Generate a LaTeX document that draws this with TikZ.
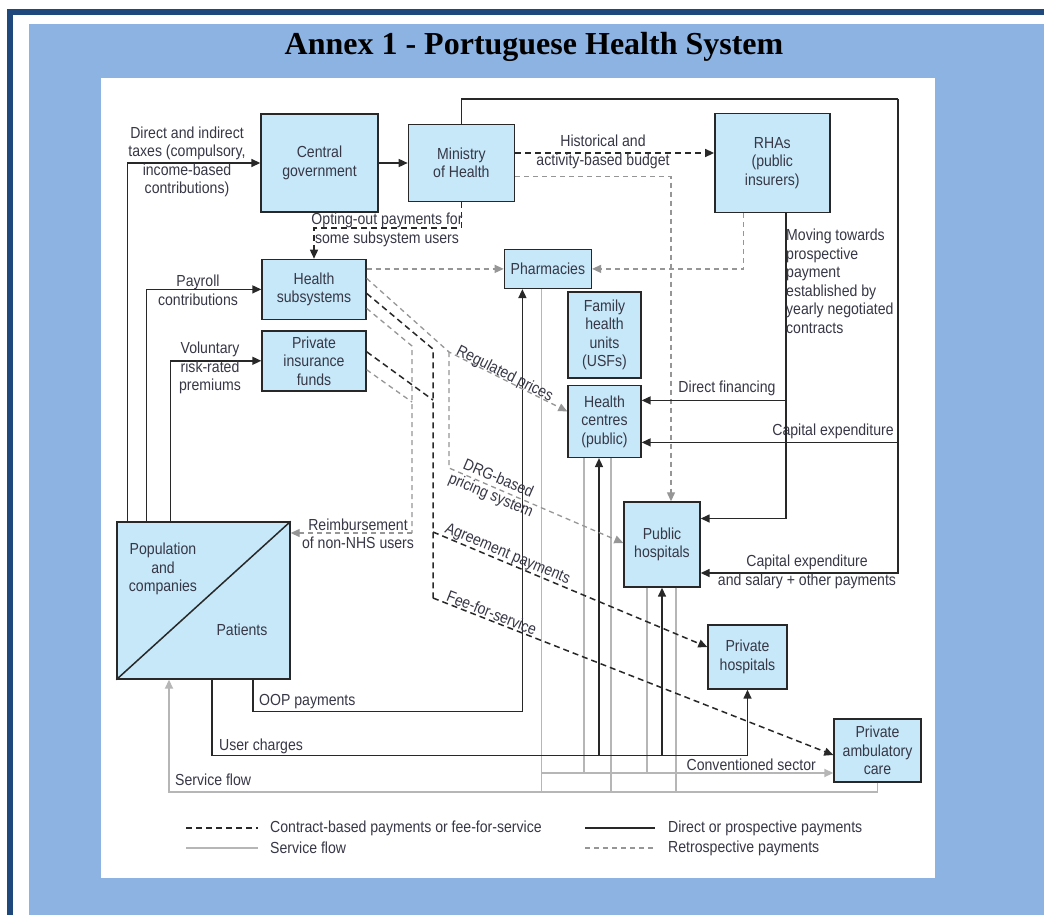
\documentclass[tikz,border=0pt]{standalone}
\usepackage{fontspec}
\usetikzlibrary{arrows.meta,positioning,calc}
\newfontfamily\lblfont{Liberation Sans}[FakeStretch=0.88]
\newfontfamily\titlefont{Liberation Serif}
\definecolor{framedark}{RGB}{31,73,125}
\definecolor{panelblue}{RGB}{141,179,226}
\definecolor{boxfill}{RGB}{198,232,249}
\definecolor{linedark}{RGB}{40,40,40}
\definecolor{txtdark}{RGB}{55,55,70}
\definecolor{servgrey}{RGB}{182,182,182}
\definecolor{retgrey}{RGB}{150,150,150}

\begin{document}
\begin{tikzpicture}[x=1pt, y=-1pt,
  >={Triangle[length=9pt,width=8pt]},
  font=\lblfont\fontsize{16}{18.5}\selectfont, text=txtdark,
  box/.style={draw=linedark, line width=1.4pt, fill=boxfill, align=center, inner sep=0pt},
  lbl/.style={align=center, inner sep=0pt},
  direct/.style={draw=linedark, line width=1.5pt},
  contract/.style={draw=linedark, line width=1.5pt, dash pattern=on 6pt off 4pt},
  service/.style={draw=servgrey, line width=1.8pt},
  retro/.style={draw=retgrey, line width=1.3pt, dash pattern=on 5pt off 4pt}]
\useasboundingbox (0,0) rectangle (1044,915);
% frame and panel
\fill[white] (0,0) rectangle (1044,915);
\fill[panelblue] (29,24) rectangle (1044,915);
\fill[framedark] (7,9) rectangle (13,915);
\fill[framedark] (7,9) rectangle (1044,15);
\fill[white] (101,78) rectangle (935,878);
\node[font=\titlefont\bfseries\fontsize{32}{36}\selectfont, text=black, anchor=base] (title) at (534,55) {Annex 1 - Portuguese Health System};
% actors
\node[box, minimum width=117pt, minimum height=98pt] (cg) at (319.5,163) {Central\\government};
\node[box, minimum width=106pt, minimum height=77pt, right=29pt of cg] (moh) {Ministry\\of Health};
\node[box, minimum width=115pt, minimum height=99pt, right=199pt of moh] (rha) {RHAs\\(public\\insurers)};
\node[box, minimum width=104pt, minimum height=60pt, below=46pt of cg.south west, anchor=north west, xshift=1pt] (hs) {Health\\subsystems};
\node[box, minimum width=104pt, minimum height=60pt, below=10pt of hs] (pif) {Private\\insurance\\funds};
\node[box, minimum width=87pt, minimum height=39pt, right=137pt of hs.north east, anchor=north west, yshift=10pt] (pharm) {Pharmacies};
\node[box, minimum width=73pt, minimum height=86pt] (fhu) at (604.5,335) {Family\\health\\units\\(USFs)};
\node[box, minimum width=73pt, minimum height=72pt, below=6pt of fhu] (hc) {Health\\centres\\(public)};
\node[box, minimum width=76pt, minimum height=85pt] (pubh) at (662,544.5) {Public\\hospitals};
\node[box, minimum width=79pt, minimum height=64pt] (privh) at (747.5,657) {Private\\hospitals};
\node[box, minimum width=87pt, minimum height=63pt] (pac) at (877.5,750.5) {Private\\ambulatory\\care};
\node[box, minimum width=173pt, minimum height=157pt] (pop) at (203.5,600.5) {};
\draw[direct] (pop.south west) -- (pop.north east);
\node[lbl] (popco) at (163,569) {Population\\and\\companies};
\node[lbl] (pat) at (242,630) {Patients};
% service flow
\draw[service,->] (pac.south) -- ++(0,9) coordinate (sf) -| ([xshift=-34.5pt]pop.south);
\node[lbl, anchor=west] (sflbl) at (175,780) {Service flow};
\coordinate (conv) at ([yshift=-22.5pt]pac.west);
\coordinate (phsv) at ([xshift=-6.5pt]pharm.south);
\coordinate (hcsa) at ([xshift=-20.5pt]hc.south);
\coordinate (hcsb) at ([xshift=6.5pt]hc.south);
\coordinate (phsa) at ([xshift=-15pt]pubh.south);
\coordinate (phsb) at ([xshift=14pt]pubh.south);
\draw[service] (phsv) -- (phsv |- sf);
\draw[service] (hcsa) -- (hcsa |- conv);
\draw[service] (hcsb) -- (hcsb |- sf);
\draw[service] (phsa) -- (phsa |- conv);
\draw[service] (phsb) -- (phsb |- sf);
\draw[service,->] (phsv |- conv) -- (conv);
\node[lbl, anchor=east] (convlbl) at (816,765) {Conventioned sector};
% population pays
\draw[direct,->] ([xshift=11pt]pop.north west) |- (cg.west);
\draw[direct,->] ([xshift=30pt]pop.north west) |- (hs.west);
\draw[direct,->] ([xshift=54pt]pop.north west) |- (pif.west);
\node[lbl] (taxlbl) at (187,162) {Direct and indirect\\taxes (compulsory,\\income-based\\contributions)};
\node[lbl] (paylbl) at (198,290.5) {Payroll\\contributions};
\node[lbl] (vollbl) at (210,368) {Voluntary\\risk-rated\\premiums};
\draw[direct,->] ([xshift=49.5pt]pop.south) -- ++(0,32) -| ([xshift=-25.5pt]pharm.south);
\node[lbl, anchor=west] (ooplbl) at (259,702) {OOP payments};
\draw[direct,->] ([xshift=8.5pt]pop.south) -- ++(0,76) coordinate (uc) -| (privh.south);
\node[lbl, anchor=west] (uclbl) at (219,746) {User charges};
\coordinate (hcin) at ([xshift=-5.5pt]hc.south);
\draw[direct,->] (hcin |- uc) -- (hcin);
\draw[direct,->] (pubh.south |- uc) -- (pubh.south);
% government and ministry
\draw[direct,->] (cg.east) -- (moh.west);
\draw[contract,->] ([yshift=10pt]moh.east) -- ([yshift=10pt]rha.west);
\node[lbl] (budlbl) at (603,152) {Historical and\\activity-based budget};
\draw[retro,->] ([yshift=-13.5pt]moh.east) -| ([xshift=9pt]pubh.north);
\coordinate (topr) at (898,99);
\coordinate (hccap) at ([yshift=-21pt]hc.east);
\draw[direct] (moh.north) |- (topr);
\draw[direct,->] (topr) |- ([yshift=-28.5pt]pubh.east);
\draw[direct,->] (topr |- hccap) -- (hccap);
\node[lbl] (caplbl) at (833,431) {Capital expenditure};
\node[lbl] (salbl) at (807,572) {Capital expenditure\\and salary + other payments};
\draw[contract,->] (moh.south) -- ++(0,26) -| (hs.north);
\node[lbl] (optlbl) at (387,230) {Opting-out payments for\\some subsystem users};
% RHAs
\coordinate (rhaout) at ([xshift=13.5pt]rha.south);
\coordinate (hcfin) at ([yshift=21pt]hc.east);
\draw[direct,->] (rhaout) |- ([yshift=26pt]pubh.east);
\draw[direct,->] (rhaout |- hcfin) -- (hcfin);
\node[lbl] (finlbl) at (727,388) {Direct financing};
\node[lbl, align=left, anchor=north west] (movlbl) at (786,229) {Moving towards\\prospective\\payment\\established by\\yearly negotiated\\contracts};
\draw[retro,->] ([xshift=-28.5pt]rha.south) |- (pharm.east);
% subsystems and insurance funds
\draw[retro,->] (hs.east |- pharm.west) -- (pharm.west);
\coordinate (drgc) at (449,352);
\draw[retro,->] ([yshift=11pt]hs.east) -- (drgc) -- node[lbl, sloped, above=-3pt, pos=0.45] (reglbl) {Regulated prices} ([yshift=10pt]hc.west);
\draw[retro,->] (drgc) -- ++(0,116) -- node[lbl, sloped, pos=0.26] (drglbl) {DRG-based\\pricing system} ([yshift=1.5pt]pubh.west);
\coordinate (ctop) at (433,349);
\coordinate (cpif) at (433,400);
\coordinate (cagr) at (433,532);
\coordinate (cfee) at (433,598);
\draw[contract] ([yshift=-4pt]hs.east) -- (ctop) -- (cfee);
\draw[contract] ([yshift=9pt]pif.east) -- (cpif);
\draw[contract,->] (cagr) -- node[lbl, sloped, above=0pt, pos=0.26] (agrlbl) {Agreement payments} ([yshift=10pt]privh.west);
\draw[contract,->] (cfee) -- node[lbl, sloped, above=1pt, pos=0.14] (feelbl) {Fee-for-service} ([yshift=-4.5pt]pac.west);
\coordinate (rtop) at (412,346);
\coordinate (rpif) at (412,402);
\coordinate (rbot) at (412,533);
\draw[retro] ([yshift=-19pt]hs.east) -- (rtop) -- (rbot);
\draw[retro] ([yshift=-9pt]pif.east) -- (rpif);
\draw[retro,->] (rbot) -- (rbot -| pop.east);
\node[lbl] (reimlbl) at (358,534) {Reimbursement\\of non-NHS users};
% legend
\node[lbl, anchor=west] (lgctr) at (270,828) {Contract-based payments or fee-for-service};
\node[lbl, anchor=west] (lgsrv) at (270,848) {Service flow};
\node[lbl, anchor=west] (lgdir) at (668,828) {Direct or prospective payments};
\node[lbl, anchor=west] (lgret) at (668,848) {Retrospective payments};
\draw[contract] ([xshift=-84pt]lgctr.west) -- ([xshift=-12pt]lgctr.west);
\draw[service] ([xshift=-84pt]lgsrv.west) -- ([xshift=-12pt]lgsrv.west);
\draw[direct] ([xshift=-83pt]lgdir.west) -- ([xshift=-13pt]lgdir.west);
\draw[retro] ([xshift=-83pt]lgret.west) -- ([xshift=-13pt]lgret.west);
\end{tikzpicture}
\end{document}
